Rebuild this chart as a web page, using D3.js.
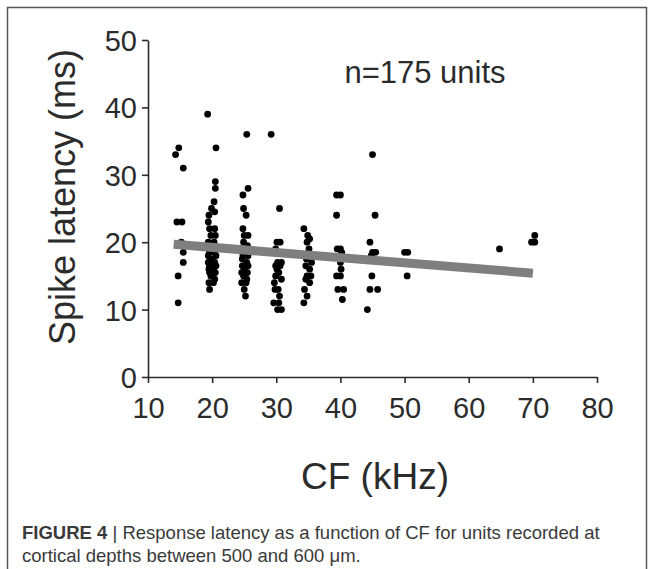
<!DOCTYPE html>
<html>
<head>
<meta charset="utf-8">
<script src="https://cdn.jsdelivr.net/npm/d3@7"></script>
<style>
  body { margin: 0; background: #fff; }
  svg { display: block; }
</style>
</head>
<body>
<svg id="chart" width="653" height="569"></svg>
<script>
// points, grouped by CF column: [CF kHz, latency ms]
const col15 = [[14.3,33],[14.8,34],[15.5,31],[14.5,23],[15.3,23],[15.2,20],[15.5,18.5],[15.5,17],[14.7,15],[14.7,11]];
const col20 = [[19.3,39],[20.6,34],[20.5,29],[20.5,28],[20.3,26],[19.9,25],[19.5,24],[20.4,24.5],[19.4,23],[19.6,22],
  [20.4,22],[19.8,21],[20.5,21],[19.4,20],[20.3,20],[19.5,19],[20.6,19],[19.6,18.5],[20.3,18.5],[19.4,18],[20.6,18],
  [19.8,17.5],[19.4,17],[20.4,17],[19.6,16.5],[20.6,16.5],[19.5,16],[20.2,16],[19.6,15.5],[20.5,15.5],[19.8,15],
  [20.4,14.5],[19.5,14],[20.2,14],[19.6,13]];
const col25 = [[25.4,36],[25.6,28],[24.8,27],[24.9,25],[25.3,24],[24.8,22],[25,21],[25.6,21],[24.9,20],[25.5,19.5],
  [24.6,19],[25.3,18.5],[24.8,18],[25.6,18],[24.7,17.5],[25.4,17],[24.7,16.5],[25.6,16.5],[25,16],[24.6,15.5],
  [25.5,15.5],[24.9,15],[25.4,14.5],[24.6,14],[25.3,14],[25,13],[25.2,12]];
const col30 = [[29.2,36],[30.5,25],[30.1,20],[30.6,20],[29.9,19],[30.2,17],[30.8,17],[29.9,16.5],[30.6,16.5],[30.1,16],
  [30.4,15.5],[29.9,15],[30.8,14.5],[29.7,14],[30.3,13],[29.8,13],[30.5,12],[29.6,11],[30.4,11],[30.2,10],[30.8,10]];
const col35 = [[34.3,22],[34.9,21],[35.2,20.5],[34.8,20],[35.1,19],[35.3,18],[34.7,17.5],[35.5,17],[34.6,16.5],[35.2,16],
  [34.8,15],[35.4,15],[34.6,14.5],[35.2,14],[34.4,13],[34.8,12],[34.3,11]];
const col40 = [[39.4,27],[40,27],[39.4,24],[39.5,19],[40,19],[40.2,18.5],[40,17],[40.1,16],[39.4,15],[40,15],[39.6,13],[40.5,13],[40.3,11.5]];
const col45 = [[45,33],[45.4,24],[44.6,20],[45,18.5],[45.5,18.5],[44.8,18],[44.9,15],[44.6,13],[45.8,13],[44.2,10]];
const colHigh = [[50,18.5],[50.5,18.5],[50.4,15],[64.8,19],[69.8,20],[70.3,20],[70.3,21]];

// linear fit drawn in grey
const trendCF = [14, 70];
const trendLatency = [19.7, 15.4];

const xTicks = [10, 20, 30, 40, 50, 60, 70, 80];
const yTicks = [0, 10, 20, 30, 40, 50];

const points = [].concat(col15, col20, col25, col30, col35, col40, col45, colHigh);

const svg = d3.select('#chart');
const font = 'Liberation Sans, Arial, sans-serif';
const ink = '#2b2b2b';

// frame around figure + caption
svg.append('path')
  .attr('d', 'M7.5,569 L7.5,7.5 L646.5,7.5 L646.5,569')
  .attr('fill', 'none')
  .attr('stroke', '#555')
  .attr('stroke-width', 1.5);

const x = d3.scaleLinear().domain([10, 80]).range([148, 597]);
const y = d3.scaleLinear().domain([0, 50]).range([377, 40]);

const xAxis = svg.append('g')
  .attr('transform', 'translate(0,377)')
  .call(d3.axisBottom(x).tickValues(xTicks).tickSize(6).tickSizeOuter(0).tickPadding(13));

const yAxis = svg.append('g')
  .attr('transform', 'translate(148,0)')
  .call(d3.axisLeft(y).tickValues(yTicks).tickSize(6).tickSizeOuter(0).tickPadding(5));

[xAxis, yAxis].forEach(g => {
  g.selectAll('path, line').attr('stroke', ink).attr('stroke-width', 1.6);
  g.selectAll('text')
    .attr('font-family', font)
    .attr('font-size', 29)
    .attr('fill', ink);
});
xAxis.selectAll('text').attr('dy', '0.75em');
yAxis.selectAll('text').attr('dy', '0.36em');

// scatter
svg.append('g')
  .selectAll('circle')
  .data(points)
  .join('circle')
  .attr('cx', d => x(d[0]))
  .attr('cy', d => y(d[1]))
  .attr('r', 3.4)
  .attr('fill', '#000');

// regression line
svg.append('line')
  .attr('x1', x(trendCF[0]))
  .attr('y1', y(trendLatency[0]))
  .attr('x2', x(trendCF[1]))
  .attr('y2', y(trendLatency[1]))
  .attr('stroke', '#7f7f7f')
  .attr('stroke-width', 9);

// titles
svg.append('text')
  .attr('x', 375)
  .attr('y', 489)
  .attr('text-anchor', 'middle')
  .attr('font-family', font)
  .attr('font-size', 37)
  .attr('fill', ink)
  .text('CF (kHz)');

svg.append('text')
  .attr('transform', 'translate(75,197) rotate(-90)')
  .attr('text-anchor', 'middle')
  .attr('font-family', font)
  .attr('font-size', 36)
  .attr('fill', ink)
  .text('Spike latency (ms)');

svg.append('text')
  .attr('x', 425)
  .attr('y', 83)
  .attr('text-anchor', 'middle')
  .attr('font-family', font)
  .attr('font-size', 31)
  .attr('fill', ink)
  .text('n=175 units');

// caption
const cap = svg.append('text')
  .attr('x', 22)
  .attr('y', 539)
  .attr('font-family', font)
  .attr('font-size', 18.5)
  .attr('fill', '#3a3a3a');
cap.append('tspan').attr('font-weight', 'bold').text('FIGURE 4');
cap.append('tspan').text(' | Response latency as a function of CF for units recorded at');

svg.append('text')
  .attr('x', 22)
  .attr('y', 562)
  .attr('font-family', font)
  .attr('font-size', 18.5)
  .attr('fill', '#3a3a3a')
  .text('cortical depths between 500 and 600 \u03bcm.');
</script>
</body>
</html>
